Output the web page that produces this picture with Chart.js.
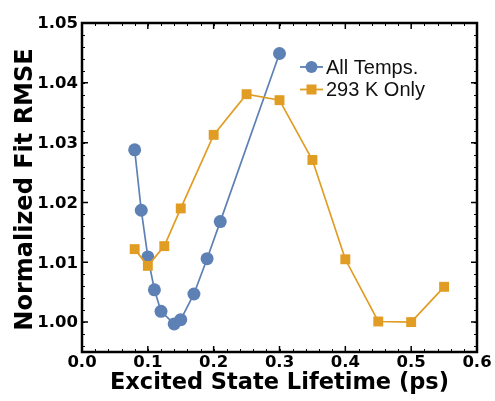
<!DOCTYPE html>
<html>
<head>
<meta charset="utf-8">
<script src="https://cdn.jsdelivr.net/npm/chart.js@4.4.0/dist/chart.umd.min.js"></script>
<style>
  html, body { margin: 0; padding: 0; background: #fff; }
</style>
</head>
<body>
<canvas id="rmseChart" width="495" height="401"></canvas>
<script>
// Fit error vs. assumed excited state lifetime
const allTempsLifetime = [0.08, 0.09, 0.10, 0.11, 0.12, 0.14, 0.15, 0.17, 0.19, 0.21, 0.30];
const allTempsRmse = [1.0288, 1.0187, 1.0109, 1.0054, 1.0018, 0.9997, 1.0004, 1.0047, 1.0106, 1.0168, 1.0449];
const roomTempLifetime = [0.08, 0.10, 0.125, 0.15, 0.20, 0.25, 0.30, 0.35, 0.40, 0.45, 0.50, 0.55];
const roomTempRmse = [1.0122, 1.0094, 1.0127, 1.0190, 1.0313, 1.0381, 1.0371, 1.0271, 1.0105, 1.0001, 1.0000, 1.0059];
const seriesNames = ['All Temps.', '293 K Only'];

const xTicks = [0.0, 0.1, 0.2, 0.3, 0.4, 0.5, 0.6];
const yTicks = [1.00, 1.01, 1.02, 1.03, 1.04, 1.05];
const xTitle = 'Excited State Lifetime (ps)';
const yTitle = 'Normalized Fit RMSE';

const BLUE = '#5E81B5';
const ORANGE = '#E19C24';
const TICK_FONT = 'bold 16.5px "DejaVu Sans"';
const X_TITLE_FONT = 'bold 22.5px "DejaVu Sans"';
const Y_TITLE_FONT = 'bold 24px "DejaVu Sans"';
const LEGEND_FONT = '20px "Liberation Sans"';

function toPoints(xs, ys) {
    return xs.map((x, i) => ({ x: x, y: ys[i] }));
}

// frame with inward ticks, tick labels, titles and legend
const framePlugin = {
    id: 'framePlugin',
    afterDraw(chart) {
        const ctx = chart.ctx;
        const area = chart.chartArea;
        const xs = chart.scales.x;
        const ys = chart.scales.y;
        ctx.save();
        ctx.strokeStyle = '#000';
        ctx.fillStyle = '#000';

        // minor ticks
        ctx.lineWidth = 1;
        const xMinor = 0.02;
        for (let k = Math.ceil(xs.min / xMinor - 1e-9); k * xMinor <= xs.max + 1e-9; k++) {
            const px = Math.round(xs.getPixelForValue(k * xMinor)) + 0.5;
            ctx.beginPath();
            ctx.moveTo(px, area.bottom); ctx.lineTo(px, area.bottom - 3);
            ctx.moveTo(px, area.top); ctx.lineTo(px, area.top + 3);
            ctx.stroke();
        }
        const yMinor = 0.002;
        for (let k = Math.ceil(ys.min / yMinor - 1e-9); k * yMinor <= ys.max + 1e-9; k++) {
            const py = Math.round(ys.getPixelForValue(k * yMinor)) + 0.5;
            ctx.beginPath();
            ctx.moveTo(area.left, py); ctx.lineTo(area.left + 3, py);
            ctx.moveTo(area.right, py); ctx.lineTo(area.right - 3, py);
            ctx.stroke();
        }

        // major ticks and labels
        ctx.lineWidth = 1.5;
        ctx.font = TICK_FONT;
        ctx.textAlign = 'center';
        ctx.textBaseline = 'middle';
        xTicks.forEach(v => {
            const px = xs.getPixelForValue(v);
            ctx.beginPath();
            ctx.moveTo(px, area.bottom); ctx.lineTo(px, area.bottom - 6);
            ctx.moveTo(px, area.top); ctx.lineTo(px, area.top + 6);
            ctx.stroke();
            ctx.fillText(v.toFixed(1), px, area.bottom + 11);
        });
        ctx.textAlign = 'right';
        yTicks.forEach(v => {
            const py = ys.getPixelForValue(v);
            ctx.beginPath();
            ctx.moveTo(area.left, py); ctx.lineTo(area.left + 6, py);
            ctx.moveTo(area.right, py); ctx.lineTo(area.right - 6, py);
            ctx.stroke();
            ctx.fillText(v.toFixed(2), area.left - 4, py + 1);
        });

        // frame
        ctx.lineWidth = 2.5;
        ctx.strokeRect(area.left, area.top, area.right - area.left, area.bottom - area.top);

        // axis titles
        ctx.font = X_TITLE_FONT;
        ctx.textAlign = 'center';
        ctx.fillText(xTitle, (area.left + area.right) / 2, area.bottom + 31);
        ctx.font = Y_TITLE_FONT;
        ctx.save();
        ctx.translate(26, (area.top + area.bottom) / 2 + 2);
        ctx.rotate(-Math.PI / 2);
        ctx.fillText(yTitle, 0, 0);
        ctx.restore();

        // legend
        const lx = 300, ly = 67, gap = 22.5;
        const styles = [BLUE, ORANGE];
        ctx.font = LEGEND_FONT;
        ctx.textAlign = 'left';
        styles.forEach((c, i) => {
            const y = ly + i * gap;
            ctx.strokeStyle = c;
            ctx.fillStyle = c;
            ctx.lineWidth = 1.8;
            ctx.beginPath();
            ctx.moveTo(lx, y); ctx.lineTo(lx + 23, y);
            ctx.stroke();
            ctx.beginPath();
            if (i === 0) {
                ctx.arc(lx + 11.5, y, 6, 0, Math.PI * 2);
            } else {
                ctx.rect(lx + 6.5, y - 5, 10, 10);
            }
            ctx.fill();
            ctx.fillStyle = '#111';
            ctx.fillText(seriesNames[i], lx + 26, y + 1);
        });
        ctx.restore();
    }
};

const rmseChart = new Chart(document.getElementById('rmseChart'), {
    type: 'scatter',
    data: {
        datasets: [{
            label: seriesNames[0],
            data: toPoints(allTempsLifetime, allTempsRmse),
            showLine: true,
            borderColor: BLUE,
            backgroundColor: BLUE,
            borderWidth: 1.7,
            pointStyle: 'circle',
            pointRadius: 6.5,
            pointBorderWidth: 0,
            order: 1
        }, {
            label: seriesNames[1],
            data: toPoints(roomTempLifetime, roomTempRmse),
            showLine: true,
            borderColor: ORANGE,
            backgroundColor: ORANGE,
            borderWidth: 1.7,
            pointStyle: 'rect',
            pointRadius: 7,
            pointBorderWidth: 0,
            order: 0
        }]
    },
    options: {
        responsive: false,
        animation: false,
        layout: {
            padding: { left: 82, right: 18, top: 23, bottom: 49 }
        },
        scales: {
            x: {
                type: 'linear',
                min: 0,
                max: 0.6,
                ticks: { display: false },
                grid: { display: false, drawTicks: false },
                border: { display: false }
            },
            y: {
                type: 'linear',
                min: 0.995,
                max: 1.05,
                ticks: { display: false },
                grid: { display: false, drawTicks: false },
                border: { display: false }
            }
        },
        plugins: {
            legend: { display: false },
            tooltip: { enabled: false }
        }
    },
    plugins: [framePlugin]
});
</script>
</body>
</html>
